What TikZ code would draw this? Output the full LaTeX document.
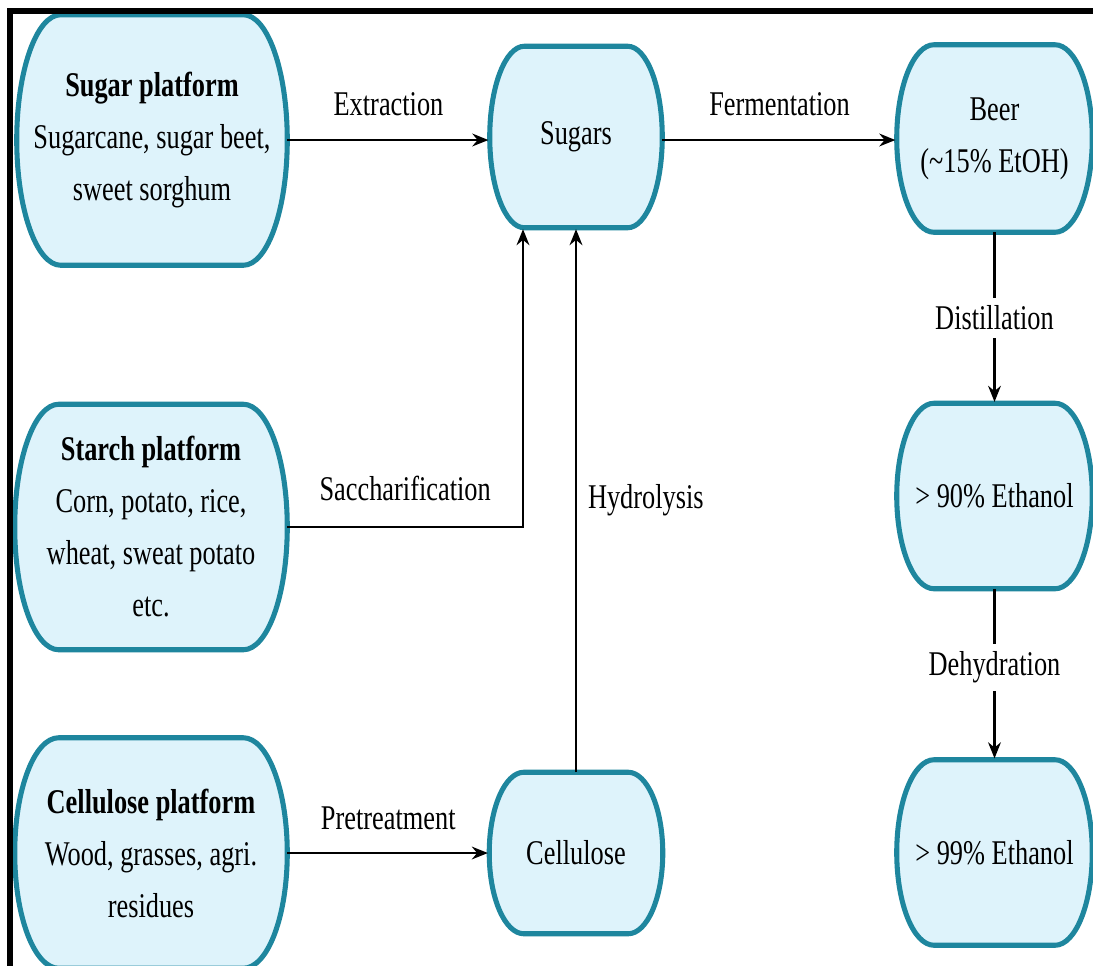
\documentclass[tikz,border=0pt]{standalone}
\usepackage{fontspec}
\setmainfont{Liberation Serif}[FakeStretch=0.76]
\usetikzlibrary{arrows.meta,backgrounds,calc}

\definecolor{blobedge}{RGB}{30,134,158}
\definecolor{blobfill}{RGB}{222,243,251}

% rounded "pill" outline with flat top/bottom and elliptic sides,
% drawn around an existing node; #2 = horizontal inset of the corners
\newcommand\blobshape[2]{%
  \path[draw=blobedge, fill=blobfill, line width=3.8pt]
    let \p1=(#1.north east), \p2=(#1.south west), \p3=(#1.center) in
    (\x2+#2,\y1) -- (\x1-#2,\y1)
    .. controls (\x1-0.448*#2,\y1) and (\x1,0.776*\y1+0.224*\y2) .. (\x1,\y3)
    .. controls (\x1,0.224*\y1+0.776*\y2) and (\x1-0.448*#2,\y2) .. (\x1-#2,\y2)
    -- (\x2+#2,\y2)
    .. controls (\x2+0.448*#2,\y2) and (\x2,0.224*\y1+0.776*\y2) .. (\x2,\y3)
    .. controls (\x2,0.776*\y1+0.224*\y2) and (\x2+0.448*#2,\y1) .. cycle;}

\tikzset{
  stage/.style={rectangle, inner sep=0pt, align=center,
    font=\fontsize{26pt}{39pt}\selectfont},
  flow/.style={line width=2pt, -{Stealth[length=12pt,width=9.5pt]}, shorten >=1pt},
  steplabel/.style={font=\fontsize{26pt}{39pt}\selectfont, inner sep=0pt},
  cutlabel/.style={steplabel, fill=white, inner ysep=6pt, inner xsep=2pt},
}

\begin{document}
\begin{tikzpicture}[x=0.75pt, y=-0.75pt]
\useasboundingbox (0,0) rectangle (1093,965);
\clip (0,0) rectangle (1093,965);

% feedstock platforms
\node[stage, minimum width=202.5pt, minimum height=187.5pt] (sugarp) at (152,140)
  {\textbf{Sugar platform}\\Sugarcane, sugar beet,\\sweet sorghum};
\node[stage, minimum width=204pt, minimum height=183.75pt] (starchp) at (151,527)
  {\textbf{Starch platform}\\Corn, potato, rice,\\wheat, sweat potato\\etc.};
\node[stage, minimum width=204pt, minimum height=172.5pt] (cellp) at (151,853)
  {\textbf{Cellulose platform}\\Wood, grasses, agri.\\residues};

% intermediates
\node[stage, minimum width=129pt, minimum height=135.75pt] (sugars) at (576,137) {Sugars};
\node[stage, minimum width=129.75pt, minimum height=120.75pt] (cellulose) at (576,853) {Cellulose};

% ethanol chain
\node[stage, minimum width=146.25pt, minimum height=140.25pt] (beer) at (994.5,138.5)
  {Beer\\(\textasciitilde15\% EtOH)};
\node[stage, minimum width=146.25pt, minimum height=138.75pt] (eth90) at (994.5,496)
  {> 90\% Ethanol};
\node[stage, minimum width=146.25pt, minimum height=138.75pt] (eth99) at (994.5,852.5)
  {> 99\% Ethanol};

\begin{scope}[on background layer]
  \fill[white] (0,0) rectangle (1093,965);
  \blobshape{sugarp}{33pt}
  \blobshape{starchp}{33pt}
  \blobshape{cellp}{33pt}
  \blobshape{sugars}{26pt}
  \blobshape{cellulose}{26pt}
  \blobshape{beer}{28pt}
  \blobshape{eth90}{28pt}
  \blobshape{eth99}{28pt}
\end{scope}

% process steps
\draw[flow] (sugarp.east) -- (sugarp.east -| sugars.west)
  node[steplabel, midway, anchor=base, yshift=18.75pt] {Extraction};
\draw[flow] (sugars.east |- sugarp.east) -- (beer.west |- sugarp.east)
  node[steplabel, midway, anchor=base, yshift=18.75pt] {Fermentation};
\draw[flow] (starchp.east) -| ([xshift=-39.75pt]sugars.south)
  node[steplabel, pos=0.25, anchor=base, yshift=20pt] {Saccharification};
\draw[flow] (cellulose.north) -- (sugars.south)
  node[steplabel, midway, right=8pt] {Hydrolysis};
\draw[flow] (cellp.east) -- (cellp.east -| cellulose.west)
  node[steplabel, midway, anchor=base, yshift=17.5pt] {Pretreatment};
\draw[flow] (beer.south) -- (eth90.north)
  node[cutlabel, midway] {Distillation};
\draw[flow] (eth90.south) -- (eth99.north)
  node[cutlabel, pos=0.46] {Dehydration};

% outer frame
\draw[line width=4.5pt] (10,11) rectangle (1110,990);
\end{tikzpicture}
\end{document}
